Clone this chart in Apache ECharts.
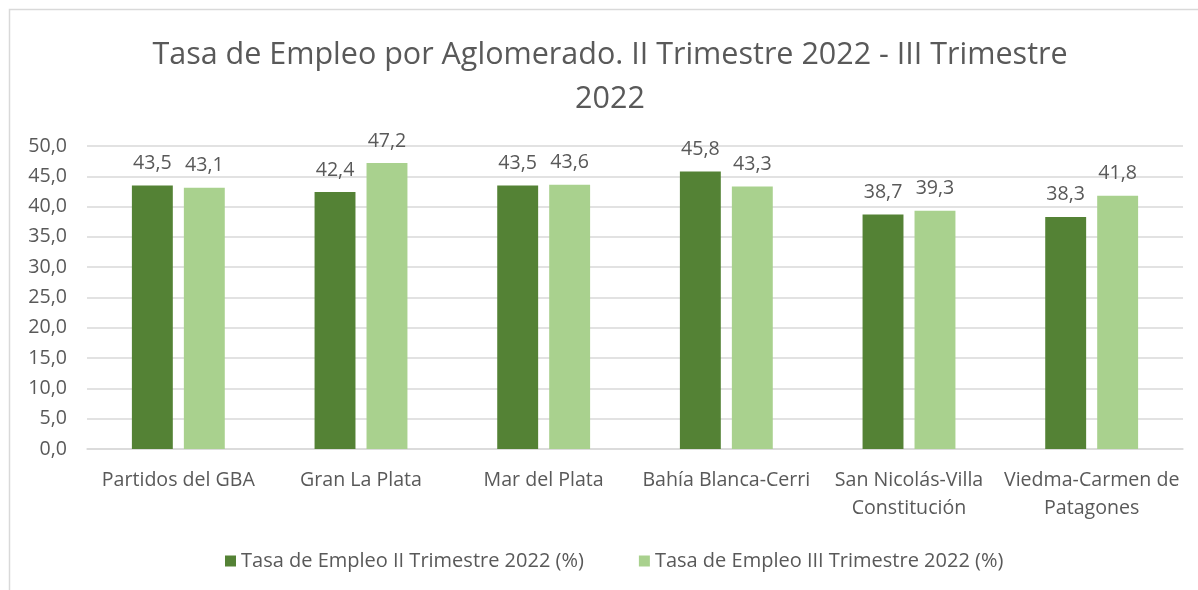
<!DOCTYPE html>
<html><head><meta charset="utf-8">
<script src="https://cdn.jsdelivr.net/npm/echarts@6/dist/echarts.min.js"></script>
<style>html,body{margin:0;padding:0;background:#fff}#c{width:1198px;height:590px}</style>
</head><body><div id="c"></div>
<script>
const categories = ["Partidos del GBA","Gran La Plata","Mar del Plata","Bahía Blanca-Cerri","San Nicolás-Villa\nConstitución","Viedma-Carmen de\nPatagones"];
const seriesNames = ["Tasa de Empleo II Trimestre 2022 (%)","Tasa de Empleo III Trimestre 2022 (%)"];
const valuesQ2 = [43.5, 42.4, 43.5, 45.8, 38.7, 38.3];
const valuesQ3 = [43.1, 47.2, 43.6, 43.3, 39.3, 41.8];
const titleText = "Tasa de Empleo por Aglomerado. II Trimestre 2022 - III Trimestre\n2022";

const fmt = v => Number(v).toFixed(1).replace('.', ',');
const font = "Open Sans";
const txt = '#595959';
const fs = 19.6;
const chart = echarts.init(document.getElementById('c'), null, {renderer:'canvas'});
chart.setOption({
  animation:false,
  textStyle:{fontFamily:font},
  graphic:[{type:'rect', shape:{x:9.5,y:9.5,width:1300,height:700}, style:{fill:null, stroke:'#d9d9d9', lineWidth:1.5}, silent:true, z:-10}],
  title:{text:titleText, left:605, textAlign:'center', top:28, textStyle:{fontFamily:font, fontSize:30.5, fontWeight:'normal', color:txt, lineHeight:44}},
  legend:{top:546, left:220, itemWidth:11, itemHeight:11, itemGap:55, icon:'rect',
    textStyle:{fontFamily:font, fontSize:20, color:txt}},
  grid:{left:87, right:15, top:146, bottom:141, containLabel:false},
  xAxis:{type:'category', data:categories, axisTick:{show:false},
    axisLine:{lineStyle:{color:'#d9d9d9', width:1.5}},
    axisLabel:{fontFamily:font, fontSize:fs, color:txt, margin:17, lineHeight:28, interval:0}},
  yAxis:{type:'value', min:0, max:50, interval:5, axisLine:{show:false}, axisTick:{show:false},
    splitLine:{lineStyle:{color:'#d9d9d9', width:1.5}},
    axisLabel:{fontFamily:font, fontSize:fs, color:txt, margin:20, formatter:fmt}},
  series:[
    {name:seriesNames[0], type:'bar', data:valuesQ2, barWidth:'22.4%', barGap:'27%', itemStyle:{color:'#548235'},
     label:{show:true, position:'top', distance:12, formatter:p=>fmt(p.value), fontFamily:font, fontSize:fs, color:txt}},
    {name:seriesNames[1], type:'bar', data:valuesQ3, barWidth:'22.4%', itemStyle:{color:'#A9D18E'},
     label:{show:true, position:'top', distance:12, formatter:p=>fmt(p.value), fontFamily:font, fontSize:fs, color:txt}}
  ]
});
</script></body></html>
